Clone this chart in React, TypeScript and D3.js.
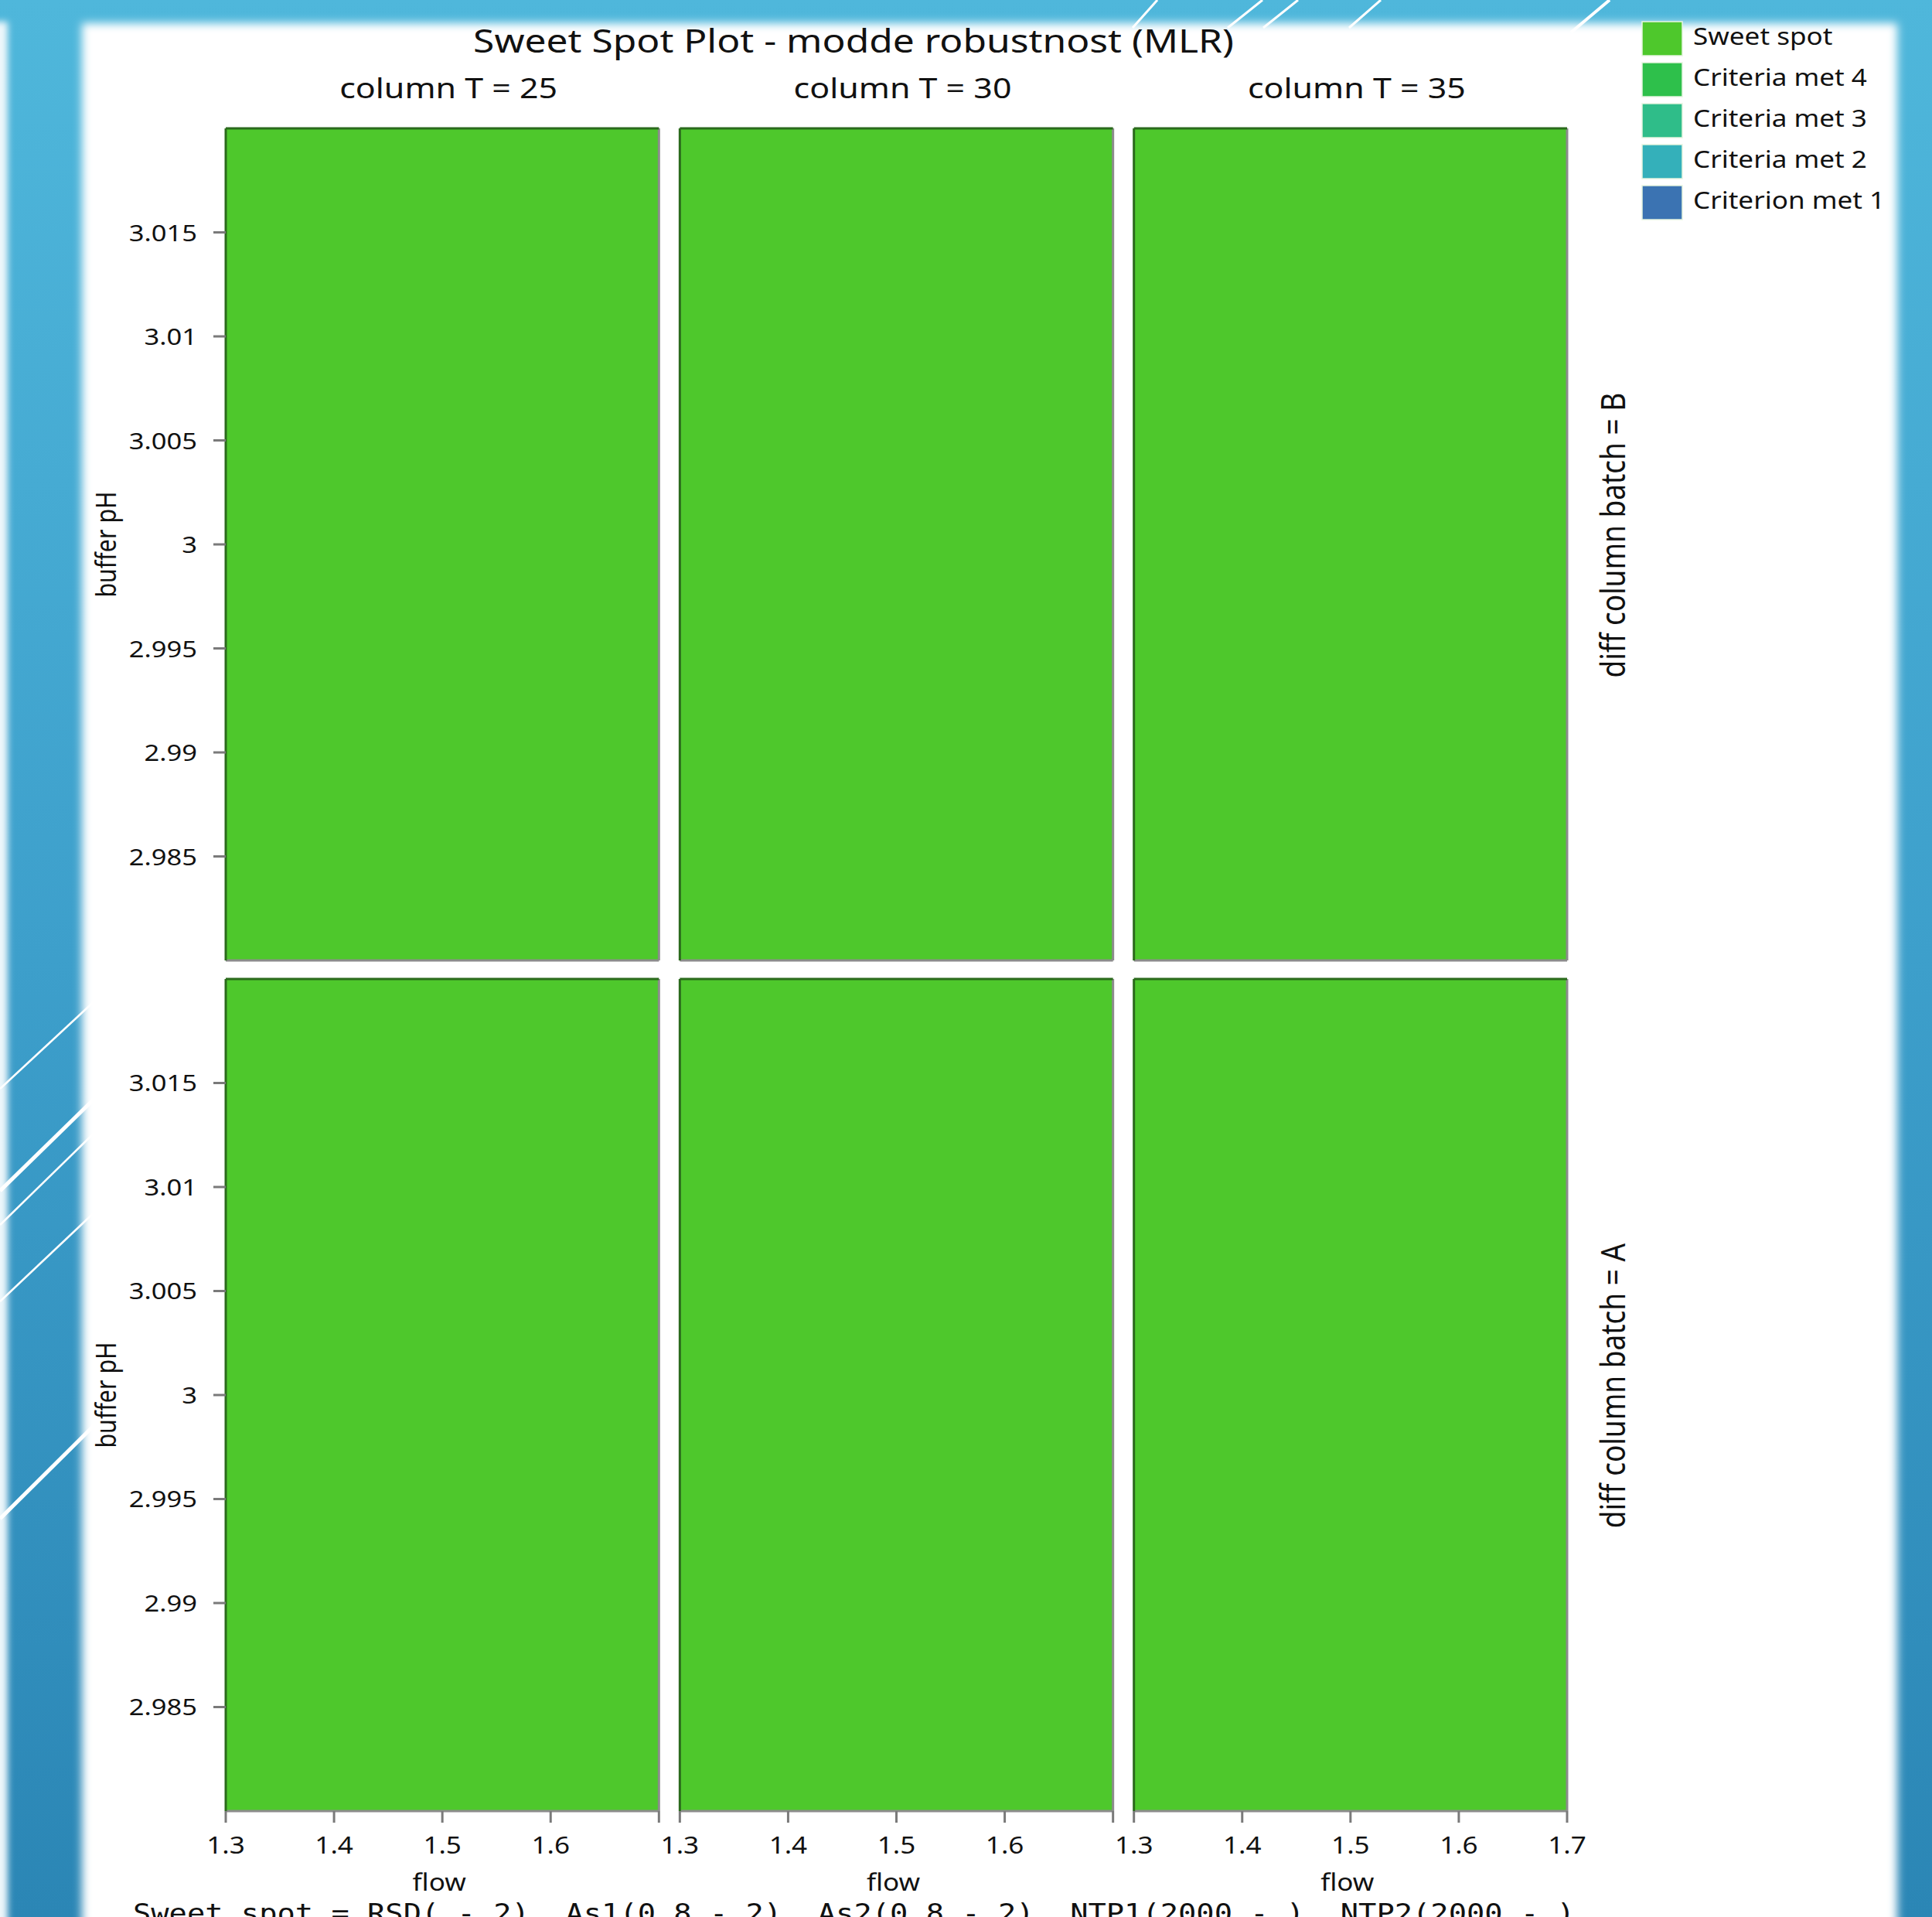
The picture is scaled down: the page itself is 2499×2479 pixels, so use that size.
import React from "react";
import * as d3 from "d3";

// ---------- data ----------
const title = "Sweet Spot Plot - modde robustnost (MLR)";
const columnT = [25, 30, 35];
const batches = ["B", "A"];
const flowDomain = [1.3, 1.7];
const pHDomain = [2.98, 3.02];
const flowTicks = [1.3, 1.4, 1.5, 1.6, 1.7];
const pHTicks = [2.985, 2.99, 2.995, 3, 3.005, 3.01, 3.015];
const legendLabels = ["Sweet spot", "Criteria met 4", "Criteria met 3", "Criteria met 2", "Criterion met 1"];
const legendColors = ["#4ec82c", "#2ec04b", "#2fbd89", "#34b0ba", "#3b73b2"];
// category of the region covering each panel (rows = batch, cols = column T)
const regionCategory = [
  ["Sweet spot", "Sweet spot", "Sweet spot"],
  ["Sweet spot", "Sweet spot", "Sweet spot"],
];
const regionFlow = [1.3, 1.7];
const regionPH = [2.98, 3.02];
const footnote =
  "Sweet spot = RSD( - 2), As1(0.8 - 2), As2(0.8 - 2), NTP1(2000 - ), NTP2(2000 - )";

// ---------- layout ----------
const W = 2499;
const H = 2479;
const K = 1.17; // horizontal glyph stretch
const FONT = "'Noto Sans', 'Open Sans', sans-serif";

const colScale = d3.scaleBand<number>().domain(columnT).range([292, 2027]).paddingInner(0.046);
const rowScale = d3.scaleBand<string>().domain(batches).range([166, 2342]).paddingInner(0.0218);
const colorScale = d3.scaleOrdinal<string, string>().domain(legendLabels).range(legendColors);

function SText({ x, y, size, anchor = "middle", rotate = false, children, family = FONT, fill = "#111" }: any) {
  return (
    <g transform={`translate(${x},${y}) scale(${K},1)${rotate ? " rotate(-90)" : ""}`}>
      <text textAnchor={anchor} fontSize={size} fontFamily={family} fill={fill}>
        {children}
      </text>
    </g>
  );
}

export default function App() {
  const topLines = [
    [1497, 0, 1465, 36, 3],
    [1633, 0, 1588, 36, 3],
    [1679, 0, 1634, 36, 3],
    [1786, 0, 1745, 36, 3],
    [2082, 0, 2032, 42, 4],
  ];
  const leftLines = [
    [0, 1408, 125, 1292, 2.5],
    [0, 1540, 125, 1418, 5],
    [0, 1584, 125, 1462, 2.5],
    [0, 1683, 125, 1565, 2.5],
    [0, 1964, 125, 1840, 5],
  ];
  const bw = colScale.bandwidth();
  const bh = rowScale.bandwidth();

  return (
    <svg
      width={W}
      height={H}
      viewBox={`0 0 ${W} ${H}`}
      style={{ position: "absolute", left: 0, top: 0, display: "block" }}
    >
      <defs>
        <linearGradient id="bg" x1="0" y1="0" x2="0" y2="1">
          <stop offset="0" stopColor="#4fb7db" />
          <stop offset="0.5" stopColor="#3d9fcb" />
          <stop offset="1" stopColor="#2b86b5" />
        </linearGradient>
        <filter id="blur" x="-5%" y="-5%" width="110%" height="110%">
          <feGaussianBlur stdDeviation="6" />
        </filter>
        <filter id="blur2" x="-100%" y="-5%" width="300%" height="110%">
          <feGaussianBlur stdDeviation="4" />
        </filter>
      </defs>

      {/* decorative frame */}
      <rect x={0} y={0} width={W} height={H} fill="url(#bg)" />
      <rect x={-20} y={28} width={30} height={H + 40} fill="#eef7fb" filter="url(#blur2)" />
      {topLines.map((l, i) => (
        <line key={"t" + i} x1={l[0]} y1={l[1]} x2={l[2]} y2={l[3]} stroke="#fff" strokeWidth={l[4]} />
      ))}
      {leftLines.map((l, i) => (
        <line key={"l" + i} x1={l[0]} y1={l[1]} x2={l[2]} y2={l[3]} stroke="#fff" strokeWidth={l[4]} />
      ))}
      <rect x={106} y={30} width={2348} height={H + 100} fill="#fff" filter="url(#blur)" />

      {/* title */}
      <SText x={1104} y={68} size={42.5}>{title}</SText>

      {/* panels */}
      {batches.map((b, ri) =>
        columnT.map((t, ci) => {
          const x0 = colScale(t)!;
          const y0 = rowScale(b)!;
          const xs = d3.scaleLinear().domain(flowDomain).range([x0, x0 + bw]);
          const ys = d3.scaleLinear().domain(pHDomain).range([y0 + bh, y0]);
          const cat = regionCategory[ri][ci];
          return (
            <g key={b + t}>
              <rect
                x={xs(regionFlow[0])}
                y={ys(regionPH[1])}
                width={xs(regionFlow[1]) - xs(regionFlow[0])}
                height={ys(regionPH[0]) - ys(regionPH[1])}
                fill={colorScale(cat)}
              />
              {/* bevel border */}
              <line x1={x0 + bw} y1={y0} x2={x0 + bw} y2={y0 + bh} stroke="#8c8c8c" strokeWidth={3} />
              <line x1={x0} y1={y0 + bh} x2={x0 + bw} y2={y0 + bh} stroke="#8c8c8c" strokeWidth={3} />
              <line x1={x0} y1={y0} x2={x0 + bw} y2={y0} stroke="#2b6a1c" strokeWidth={3} />
              <line x1={x0} y1={y0} x2={x0} y2={y0 + bh} stroke="#2b6a1c" strokeWidth={3} />

              {ri === 0 && (
                <SText x={x0 + bw / 2 + 8} y={127} size={36.7}>{`column T = ${t}`}</SText>
              )}

              {ci === 2 && (
                <SText x={2102} y={y0 + bh / 2 - 12} size={37} rotate>{`diff column batch = ${b}`}</SText>
              )}

              {ci === 0 && (
                <g>
                  {pHTicks.map((v) => (
                    <g key={v}>
                      <line x1={x0 - 16} x2={x0} y1={ys(v)} y2={ys(v)} stroke="#7a7a7a" strokeWidth={3} />
                      <SText x={x0 - 37} y={ys(v) + 11} size={29.5} anchor="end">{String(v)}</SText>
                    </g>
                  ))}
                  <SText x={150} y={y0 + bh / 2} size={30.4} rotate>buffer pH</SText>
                </g>
              )}

              {ri === 1 && (
                <g>
                  {flowTicks.map((v, k) => (
                    <g key={v}>
                      <line x1={xs(v)} x2={xs(v)} y1={y0 + bh} y2={y0 + bh + 15} stroke="#7a7a7a" strokeWidth={3} />
                      {(k < flowTicks.length - 1 || ci === columnT.length - 1) && (
                        <SText x={xs(v)} y={y0 + bh + 55} size={30}>{String(v)}</SText>
                      )}
                    </g>
                  ))}
                  <SText x={x0 + bw / 2 - 4} y={2445} size={30}>flow</SText>
                </g>
              )}
            </g>
          );
        })
      )}

      {/* legend */}
      {legendLabels.map((lab, i) => (
        <g key={lab}>
          <rect x={2124} y={28 + i * 53} width={52} height={44} fill={colorScale(lab)} stroke="#e6f5e0" strokeWidth={1.5} />
          <SText x={2190} y={58 + i * 53} size={30} anchor="start">{lab}</SText>
        </g>
      ))}

      {/* footnote (cut off at the bottom edge, as in the source image) */}
      <SText x={172} y={2486} size={33.1} anchor="start" family="'DejaVu Sans Mono', monospace">
        {footnote}
      </SText>
    </svg>
  );
}
